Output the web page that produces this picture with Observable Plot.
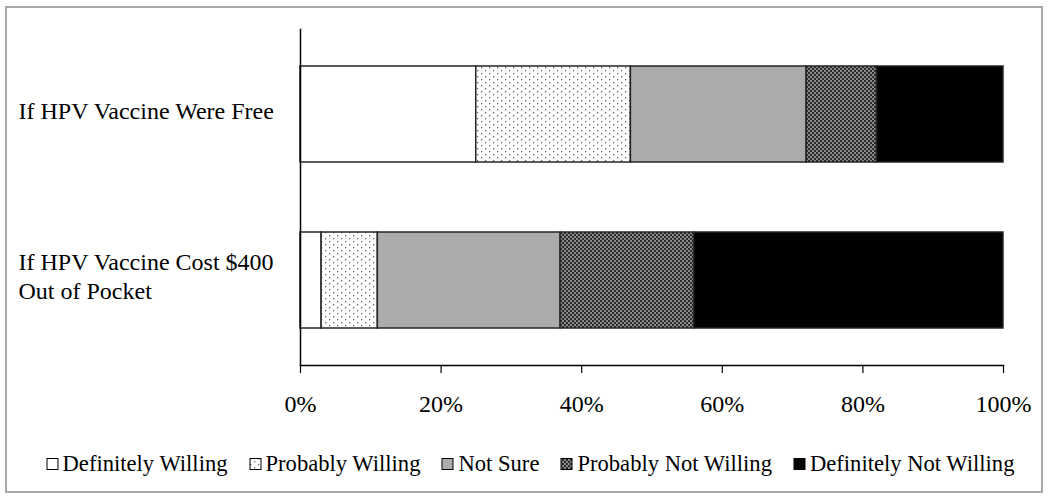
<!DOCTYPE html>
<html>
<head>
<meta charset="utf-8">
<script src="https://cdn.jsdelivr.net/npm/d3@7"></script>
<script src="https://cdn.jsdelivr.net/npm/@observablehq/plot@0.6"></script>
<style>
  html, body { margin: 0; padding: 0; background: #fff; }
  #wrap { position: relative; width: 1050px; height: 501px; overflow: hidden; font-family: "Liberation Serif", "Times New Roman", serif; }
  #border { position: absolute; left: 5px; top: 6px; width: 1034px; height: 483px; border: 2px solid #a8a8a8; }
  #chart { position: absolute; left: 0; top: 0; }
  #legend { position: absolute; left: 0; top: 448px; width: 1050px; height: 32px; display: flex; justify-content: center; align-items: center; gap: 21px; font-size: 22.6px; color: #000; padding-left: 10px; box-sizing: border-box; }
  .item { display: flex; align-items: center; gap: 3px; white-space: nowrap; }
  .item svg { display: block; }
</style>
</head>
<body>
<div id="wrap">
  <div id="border"></div>
  <div id="chart"></div>
  <div id="legend"></div>
</div>
<script>
// ---- data ----
const groups = ["If HPV Vaccine Were Free", "If HPV Vaccine Cost $400 Out of Pocket"];
const groupLabels = ["If HPV Vaccine Were Free", "If HPV Vaccine Cost $400\nOut of Pocket"];
const responses = ["Definitely Willing", "Probably Willing", "Not Sure", "Probably Not Willing", "Definitely Not Willing"];
const freeValues = [25, 22, 25, 10, 18];
const costValues = [3, 8, 26, 19, 44];
const xTicks = [0, 20, 40, 60, 80, 100];
const fills = ["#ffffff", "url(#pat-dots)", "#ababab", "url(#pat-check)", "#000000"];

const seriesByGroup = [freeValues, costValues];
const table = [];
groups.forEach((g, gi) => {
  responses.forEach((r, ri) => table.push({group: g, response: r, value: seriesByGroup[gi][ri]}));
});
const labelOf = new Map(groups.map((g, i) => [g, groupLabels[i]]));

const plot = Plot.plot({
  width: 1050,
  height: 440,
  marginLeft: 300,
  marginRight: 47,
  marginTop: 29,
  marginBottom: 75,
  style: {fontFamily: "Liberation Serif, Times New Roman, serif", fontSize: "24px", background: "transparent", color: "#000"},
  x: {domain: [0, 100], axis: null, label: null},
  y: {domain: groups, paddingInner: 0.42, paddingOuter: 0.22, axis: null, label: null},
  color: {type: "ordinal", domain: responses, range: fills},
  marks: [
    Plot.barX(table, Plot.stackX({x: "value", y: "group", fill: "response", stroke: "#262626", strokeWidth: 1.5})),
    Plot.frame({anchor: "left", stroke: "#000", strokeWidth: 1.5}),
    Plot.frame({anchor: "bottom", stroke: "#000", strokeWidth: 1.5}),
    Plot.axisX({ticks: xTicks, tickFormat: d => d + "%", tickSize: 8, tickPadding: 21, stroke: "#000", strokeWidth: 1.2, fill: "#000", fontSize: 24, label: null}),
    Plot.text(groups, {y: d => d, text: d => labelOf.get(d), frameAnchor: "left", dx: -282, dy: -5, textAnchor: "start", lineAnchor: "middle", lineHeight: 1.2, fontSize: 24, fill: "#000"})
  ]
});

// patterns
const defs = d3.select(plot).insert("defs", ":first-child");
const pd = defs.append("pattern").attr("id", "pat-dots").attr("patternUnits", "userSpaceOnUse").attr("width", 8).attr("height", 6);
pd.append("rect").attr("width", 8).attr("height", 6).attr("fill", "#fff");
pd.append("rect").attr("x", 1).attr("y", 1).attr("width", 1.3).attr("height", 1.3).attr("fill", "#666");
pd.append("rect").attr("x", 5).attr("y", 4).attr("width", 1.3).attr("height", 1.3).attr("fill", "#666");
const pc = defs.append("pattern").attr("id", "pat-check").attr("patternUnits", "userSpaceOnUse").attr("width", 4).attr("height", 4);
pc.append("rect").attr("width", 4).attr("height", 4).attr("fill", "#8a8a8a");
pc.append("rect").attr("x", 0).attr("y", 0).attr("width", 2).attr("height", 2).attr("fill", "#2b2b2b");
pc.append("rect").attr("x", 2).attr("y", 2).attr("width", 2).attr("height", 2).attr("fill", "#2b2b2b");

document.getElementById("chart").appendChild(plot);

// legend
const color = plot.scale("color");
const legend = d3.select("#legend");
responses.forEach((r) => {
  const item = legend.append("div").attr("class", "item");
  const s = item.append("svg").attr("width", 14).attr("height", 14);
  s.append("rect").attr("x", 1).attr("y", 1.5).attr("width", 11).attr("height", 11)
    .attr("fill", color.apply(r)).attr("stroke", "#000").attr("stroke-width", 1);
  item.append("span").text(r);
});
</script>
</body>
</html>
